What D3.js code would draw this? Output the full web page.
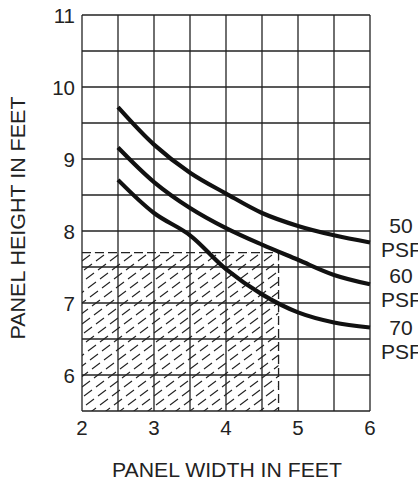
<!DOCTYPE html>
<html>
<head>
<meta charset="utf-8">
<script src="https://cdn.jsdelivr.net/npm/d3@7"></script>
<style>
  body { margin: 0; background: #fff; }
  text { font-family: "Liberation Sans", Arial, sans-serif; fill: #222; }
</style>
</head>
<body>
<svg width="418" height="479"></svg>
<script>
// panel width (ft) sampled every half foot
var widths = [2.5, 3, 3.5, 4, 4.5, 5, 5.5, 6];
// max panel height (ft) for each load
var psf50 = [9.72, 9.2, 8.81, 8.52, 8.25, 8.07, 7.94, 7.84];
var psf60 = [9.16, 8.68, 8.32, 8.04, 7.81, 7.6, 7.39, 7.26];
var psf70 = [8.71, 8.25, 7.94, 7.47, 7.12, 6.87, 6.73, 6.66];
var seriesLabels = ["50", "60", "70"];
// hatched (allowed) region: width up to, height up to
var hatchWidth = 4.73, hatchHeight = 7.7;
var xTicks = [2, 3, 4, 5, 6];
var yTicks = [6, 7, 8, 9, 10, 11];

var svg = d3.select("svg");

var x = d3.scaleLinear().domain([2, 6]).range([82, 370]);
var y = d3.scaleLinear().domain([5.5, 11]).range([411, 15]);

var ink = "#222";

// hatched area
var clip = svg.append("clipPath").attr("id", "hclip");
clip.append("rect")
    .attr("x", x(2)).attr("y", y(hatchHeight))
    .attr("width", x(hatchWidth) - x(2))
    .attr("height", y(5.5) - y(hatchHeight));

var hatch = svg.append("g").attr("clip-path", "url(#hclip)");
var slope = 0.75, step = 14;
for (var ox = x(2) - 400; ox < x(hatchWidth) + 10; ox += step) {
  hatch.append("line")
      .attr("x1", ox).attr("y1", y(5.5) + 3)
      .attr("x2", ox + 400).attr("y2", y(5.5) + 3 - 400 * slope)
      .attr("stroke", ink)
      .attr("stroke-width", 1.1)
      .attr("stroke-dasharray", "10,5");
}

// grid
var grid = svg.append("g").attr("class", "grid");
grid.selectAll("line.v")
    .data(d3.range(2, 6.01, 0.5))
    .enter().append("line")
      .attr("x1", function(d) { return x(d); })
      .attr("x2", function(d) { return x(d); })
      .attr("y1", y(5.5)).attr("y2", y(11))
      .attr("stroke", ink).attr("stroke-width", 1.3);
grid.selectAll("line.h")
    .data(d3.range(5.5, 11.01, 0.5))
    .enter().append("line")
      .attr("y1", function(d) { return y(d); })
      .attr("y2", function(d) { return y(d); })
      .attr("x1", x(2)).attr("x2", x(6))
      .attr("stroke", ink).attr("stroke-width", 1.3);

// dashed border of hatched area
svg.append("path")
    .attr("d", "M" + x(2) + "," + y(hatchHeight) + "H" + x(hatchWidth) + "V" + y(5.5))
    .attr("fill", "none")
    .attr("stroke", ink)
    .attr("stroke-width", 1.3)
    .attr("stroke-dasharray", "9,4");

// curves
var line = d3.line()
    .x(function(d, i) { return x(widths[i]); })
    .y(function(d) { return y(d); })
    .curve(d3.curveCatmullRom.alpha(0.5));

[psf50, psf60, psf70].forEach(function(s) {
  svg.append("path")
      .attr("d", line(s))
      .attr("fill", "none")
      .attr("stroke", "#111")
      .attr("stroke-width", 4.2);
});

// curve labels
var labelBase = [233, 283, 335];
seriesLabels.forEach(function(l, i) {
  svg.append("text").attr("x", 401).attr("y", labelBase[i])
      .attr("text-anchor", "middle").attr("font-size", 21).text(l);
  svg.append("text").attr("x", 381).attr("y", labelBase[i] + 24)
      .attr("font-size", 21).text("PSF");
});

// tick labels
svg.selectAll("text.xt")
    .data(xTicks)
    .enter().append("text")
      .attr("x", function(d) { return x(d); })
      .attr("y", 435)
      .attr("text-anchor", "middle")
      .attr("font-size", 20.5)
      .text(function(d) { return d; });

svg.selectAll("text.yt")
    .data(yTicks)
    .enter().append("text")
      .attr("x", 75)
      .attr("y", function(d) { return y(d) + 7.5; })
      .attr("text-anchor", "end")
      .attr("font-size", 20.5)
      .text(function(d) { return d; });

// axis titles
svg.append("text")
    .attr("x", 227).attr("y", 477)
    .attr("text-anchor", "middle")
    .attr("font-size", 20.5)
    .attr("textLength", 230)
    .attr("lengthAdjust", "spacingAndGlyphs")
    .text("PANEL WIDTH IN FEET");

svg.append("text")
    .attr("transform", "translate(25,218) rotate(-90)")
    .attr("text-anchor", "middle")
    .attr("font-size", 20.5)
    .attr("textLength", 243)
    .attr("lengthAdjust", "spacingAndGlyphs")
    .text("PANEL HEIGHT IN FEET");
</script>
</body>
</html>
